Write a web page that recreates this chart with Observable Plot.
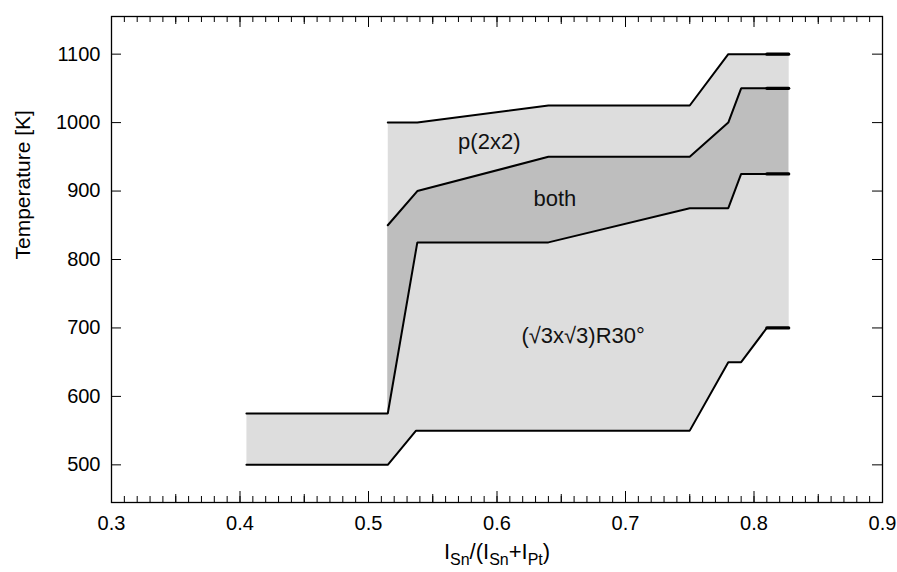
<!DOCTYPE html>
<html><head><meta charset="utf-8">
<script src="https://cdn.jsdelivr.net/npm/d3@7"></script>
<script src="https://cdn.jsdelivr.net/npm/@observablehq/plot@0.6"></script>
<style>
body{margin:0;background:#fff;}
#chart svg{font-family:"Liberation Sans",Arial,Helvetica,sans-serif;}
</style>
</head><body><div id="chart"></div>
<script>
// Phase boundaries: x = I_Sn/(I_Sn+I_Pt), T = temperature [K]
// lower boundary of (√3x√3)R30°
const lowerX = [0.405, 0.515, 0.537, 0.75, 0.78, 0.79, 0.81, 0.827];
const lowerT = [500, 500, 550, 550, 650, 650, 700, 700];
// upper boundary of (√3x√3)R30° (= lower boundary of "both")
const sqrt3TopX = [0.405, 0.515, 0.538, 0.64, 0.75, 0.78, 0.79, 0.81, 0.827];
const sqrt3TopT = [575, 575, 825, 825, 875, 875, 925, 925, 925];
// lower boundary of p(2x2) (= upper boundary of "both")
const p2TopBothX = [0.515, 0.538, 0.64, 0.75, 0.78, 0.79, 0.81, 0.827];
const p2TopBothT = [850, 900, 950, 950, 1000, 1050, 1050, 1050];
// upper boundary of p(2x2)
const upperX = [0.515, 0.538, 0.64, 0.75, 0.78, 0.81, 0.827];
const upperT = [1000, 1000, 1025, 1025, 1100, 1100, 1100];

// region labels
const regionNames = ["p(2x2)", "both", "(√3x√3)R30°"];
const regionX = [0.594, 0.645, 0.667];
const regionT = [972, 889, 689];

// axis ticks
const xTickLabels = [0.3, 0.4, 0.5, 0.6, 0.7, 0.8, 0.9];
const xMidTicks = [0.35, 0.45, 0.55, 0.65, 0.75, 0.85];
const xMinorTicks = d3.range(0, 61).map(i => +(0.3 + i * 0.01).toFixed(2));
const yTickLabels = [500, 600, 700, 800, 900, 1000, 1100];

const pts = (xs, ts) => xs.map((x, i) => ({x, t: ts[i]}));
const lower = pts(lowerX, lowerT);
const sqrt3Top = pts(sqrt3TopX, sqrt3TopT);
const p2Bottom = pts(p2TopBothX, p2TopBothT);
const upper = pts(upperX, upperT);

// light grey region outline: lower line, then upper line reversed, then the 575 step
const lightPoly = [...lower, ...upper.slice().reverse(), sqrt3Top[1], sqrt3Top[0]];
// "both" region: between sqrt3Top (from x=0.515) and p2Bottom (same x vertices)
const bothRows = sqrt3Top.slice(1).map((d, i) => ({x: d.x, lo: d.t, hi: p2Bottom[i].t}));

const W = 897, H = 572, mL = 111, mR = 15, mT = 16, mB = 70;
const fw = W - mL - mR, fh = H - mT - mB;
const lineSets = [lower, sqrt3Top, p2Bottom, upper];
const XLABEL = "XLABEL_PLACEHOLDER";

const chart = Plot.plot({
  width: W, height: H,
  marginLeft: mL, marginRight: mR, marginTop: mT, marginBottom: mB,
  x: {domain: [0.3, 0.9], label: null},
  y: {domain: [445, 1155], label: null},
  style: {fontSize: "20px", color: "#000", background: "#fff", fontFamily: "'Liberation Sans',Arial,sans-serif"},
  marks: [
    Plot.line(lightPoly, {x: "x", y: "t", fill: "#dddddd", stroke: "none"}),
    Plot.area(bothRows, {x1: "x", y1: "lo", x2: "x", y2: "hi", fill: "#bebebe"}),
    ...lineSets.map(s => Plot.line(s, {x: "x", y: "t", stroke: "#000", strokeWidth: 2, strokeLinejoin: "miter"})),
    ...lineSets.map(s => Plot.line(s.filter(d => d.x >= 0.81), {x: "x", y: "t", stroke: "#000", strokeWidth: 3.2})),
    // inward ticks, bottom and top
    Plot.tickX(xMinorTicks, {x: d => d, insetTop: fh - 6, stroke: "#000"}),
    Plot.tickX(xMinorTicks, {x: d => d, insetBottom: fh - 6, stroke: "#000"}),
    Plot.tickX(xMidTicks, {x: d => d, insetTop: fh - 8, stroke: "#000"}),
    Plot.tickX(xMidTicks, {x: d => d, insetBottom: fh - 8, stroke: "#000"}),
    Plot.tickX(xTickLabels, {x: d => d, insetTop: fh - 11, stroke: "#000"}),
    Plot.tickX(xTickLabels, {x: d => d, insetBottom: fh - 11, stroke: "#000"}),
    // inward ticks, left and right
    Plot.tickY(yTickLabels, {y: d => d, insetRight: fw - 10, stroke: "#000"}),
    Plot.tickY(yTickLabels, {y: d => d, insetLeft: fw - 10, stroke: "#000"}),
    Plot.frame({stroke: "#000", strokeWidth: 1.3}),
    Plot.axisX({ticks: xTickLabels, tickSize: 0, tickPadding: 13, tickFormat: d => d.toFixed(1), label: null, fontSize: 20}),
    Plot.axisY({ticks: yTickLabels, tickSize: 0, tickPadding: 11, tickFormat: d => String(d), label: null, fontSize: 20}),
    Plot.text(regionNames, {x: (d, i) => regionX[i], y: (d, i) => regionT[i], text: d => d, fontSize: 22, fill: "#111", lineAnchor: "middle"}),
    Plot.text(["Temperature [K]"], {frameAnchor: "left", dx: -88, rotate: -90, text: d => d, fontSize: 21, lineAnchor: "middle"}),
    Plot.text([XLABEL], {frameAnchor: "bottom", dy: 49, text: d => d, fontSize: 22, lineAnchor: "middle"})
  ]
});

// turn the x-axis title into text with subscripts
d3.select(chart).selectAll("text").each(function() {
  if (this.textContent === XLABEL) {
    const t = d3.select(this);
    t.text(null);
    const parts = [["I", 0], ["Sn", 1], ["/(I", 0], ["Sn", 1], ["+I", 0], ["Pt", 1], [")", 0]];
    let prevSub = 0;
    for (const [s, sub] of parts) {
      const sp = t.append("tspan").text(s);
      if (sub) sp.attr("font-size", 16);
      const shift = (sub - prevSub) * 6;
      if (shift) sp.attr("dy", shift);
      prevSub = sub;
    }
  }
});

document.getElementById("chart").appendChild(chart);
</script>
</body></html>
